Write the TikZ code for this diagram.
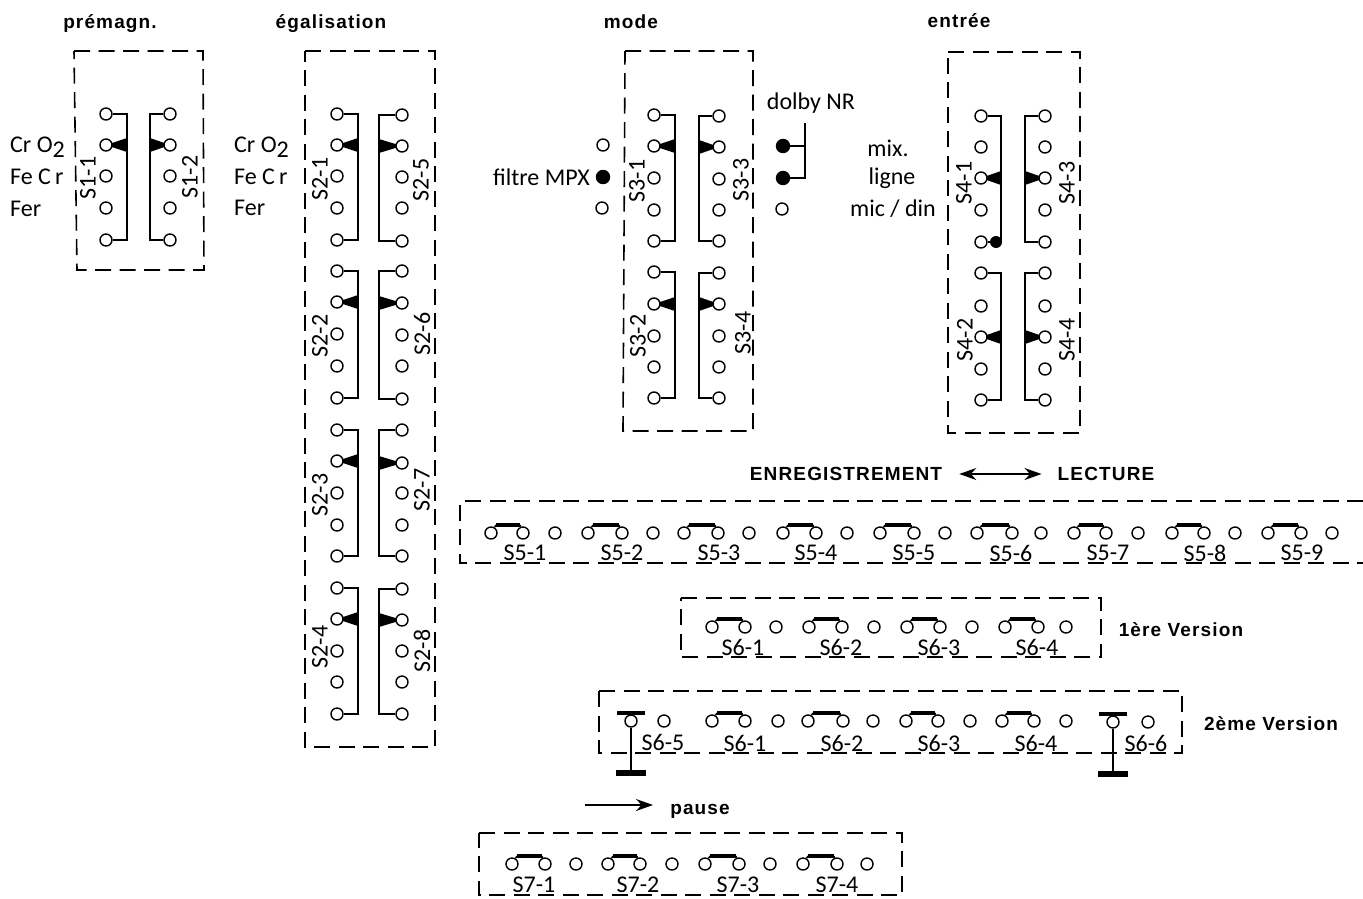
\documentclass[tikz,border=0pt]{standalone}
\usepackage{fontspec}
\setmainfont{Carlito}
\newfontfamily\headfont[LetterSpace=6]{Liberation Sans}
\usetikzlibrary{arrows.meta,backgrounds}
\newcommand{\wires}{1.5pt}
\newcommand{\dashs}{1.6pt}
\tikzset{
    term/.style = {circle, draw, fill=white, line width=1.4pt, inner sep=0pt, minimum size=12pt},
    termon/.style = {term, fill=black, minimum size=13pt},
    wire/.style = {line width=\wires},
    heavy/.style = {line width=3.5pt},
    heavier/.style = {line width=6.5pt},
    dashbox/.style = {line width=\dashs, dash pattern=on 16pt off 8.5pt},
    txt/.style = {inner sep=0pt, font=\fontsize{24}{26}\selectfont},
    waferlabel/.style = {txt, rotate=90},
    head/.style = {inner sep=0pt, font=\headfont\bfseries\fontsize{19}{21}\selectfont}
}
% terminals of one wafer, wedge on row #9
\newcommand{\Wafer}[9]{
    \coordinate (#1a) at (#3,#4);
    \coordinate (#1b) at (#3,#8);
    \node[term] (#11) at (#2,#4) {};
    \node[term] (#12) at (#2,#5) {};
    \node[term] (#13) at (#2,#6) {};
    \node[term] (#14) at (#2,#7) {};
    \node[term] (#15) at (#2,#8) {};
    \draw[wire] (#11) -- (#1a) -- (#1b) -- (#15);
    \coordinate (#1w) at (#1#9 -| #1a);
    \begin{scope}[on background layer]
        \fill ([yshift=7pt]#1w) -- (#1#9.center) -- ([yshift=-7pt]#1w) -- cycle;
    \end{scope}
}
% two bridged terminals and a free one
\newcommand{\Contact}[8]{
    \coordinate (#1l) at (#2+5,#5-8);
    \coordinate (#1r) at (#3-3,#5-8);
    \node[term] (#1a) at (#2,#5) {};
    \node[term] (#1b) at (#3,#5) {};
    \node[term] (#1c) at (#4,#5) {};
    \draw[wire] (#1a) -- (#1l);
    \draw[wire] (#1r) -- (#1b);
    \draw[heavy] (#1l) -- (#1r);
    \node[txt] (#1t) at (#6,#7) {#8};
}
% terminal on a long stem
\newcommand{\Stem}[7]{
    \coordinate (#1u) at (#2,#3-8);
    \coordinate (#1d) at (#2,#3+52);
    \draw[heavy] ([xshift=-14pt]#1u) -- ([xshift=14pt]#1u);
    \draw[heavier] ([xshift=-15pt]#1d) -- ([xshift=15pt]#1d);
    \node[term] (#1a) at (#2,#3) {};
    \node[term] (#1b) at (#4,#3) {};
    \draw[wire] (#1a) -- (#1u);
    \draw[wire] (#1a) -- (#1d);
    \node[txt] (#1t) at (#5,#6) {#7};
}

\begin{document}
\begin{tikzpicture}[x=1pt,y=-1pt]
    %\draw[help lines] (0,0) grid (1363,898);
    \useasboundingbox (0,0) rectangle (1363,898);

    \node[head] (premagn) at (110,24) {prémagn.};
    \node[head] (egal) at (331,24) {égalisation};
    \node[head] (mode) at (631,22) {mode};
    \node[head] (entree) at (959,21) {entrée};

    % dashed frames
    \draw[dashbox] (74,51) -- (203,51) -- (204,270) -- (77,270) -- cycle;
    \draw[dashbox] (305,51) -- (435,51) -- (435,747) -- (305,747) -- cycle;
    \draw[dashbox] (625,51) -- (753,51) -- (753,431) -- (623,431) -- cycle;
    \draw[dashbox] (948,52) -- (1080,52) -- (1080,433) -- (948,433) -- cycle;
    \draw[dashbox] (1363,501) -- (460,501) -- (460,563) -- (1363,563);
    \draw[dashbox] (681,598) -- (1101,598) -- (1101,657) -- (681,657) -- cycle;
    \draw[dashbox] (599,691) -- (1182,691) -- (1182,753) -- (599,753) -- cycle;
    \draw[dashbox] (479,833) -- (902,833) -- (902,895) -- (479,895) -- cycle;

    \Wafer{sa}{106}{127}{114}{145}{176}{208}{240}{2}
    \Wafer{sb}{170}{150}{114}{145}{176}{208}{240}{2}
    \node[waferlabel] (s11) at (88,178) {S1-1};
    \node[waferlabel] (s12) at (190,177) {S1-2};
    \node[txt, anchor=west] (cra) at (10,147) {Cr O\raisebox{-5pt}{2}};
    \node[txt, anchor=west] (fea) at (10,177) {Fe C\,r};
    \node[txt, anchor=west] (fra) at (10,209) {Fer};

    \Wafer{ta}{337}{358}{114}{145}{176}{208}{240}{2}
    \Wafer{tb}{337}{358}{271}{302}{334}{366}{398}{2}
    \Wafer{tc}{337}{358}{430}{461}{493}{525}{556}{2}
    \Wafer{td}{337}{358}{588}{619}{651}{682}{714}{2}
    \Wafer{te}{402}{379}{115}{146}{177}{208}{241}{2}
    \Wafer{tf}{402}{379}{271}{303}{335}{366}{399}{2}
    \Wafer{tg}{402}{379}{430}{463}{493}{525}{556}{2}
    \Wafer{th}{402}{379}{589}{620}{651}{682}{714}{2}
    \node[waferlabel] (s21) at (320,179) {S2-1};
    \node[waferlabel] (s22) at (320,336) {S2-2};
    \node[waferlabel] (s23) at (320,495) {S2-3};
    \node[waferlabel] (s24) at (320,647) {S2-4};
    \node[waferlabel] (s25) at (421,180) {S2-5};
    \node[waferlabel] (s26) at (422,334) {S2-6};
    \node[waferlabel] (s27) at (422,490) {S2-7};
    \node[waferlabel] (s28) at (422,651) {S2-8};
    \node[txt, anchor=west] (crb) at (234,147) {Cr O\raisebox{-5pt}{2}};
    \node[txt, anchor=west] (feb) at (234,177) {Fe C\,r};
    \node[txt, anchor=west] (frb) at (234,208) {Fer};

    \Wafer{ua}{654}{675}{115}{146}{178}{210}{241}{2}
    \Wafer{ub}{654}{675}{272}{304}{336}{367}{398}{2}
    \Wafer{uc}{719}{699}{116}{147}{179}{210}{241}{2}
    \Wafer{ud}{719}{699}{273}{304}{336}{367}{398}{2}
    \node[waferlabel] (s31) at (637,181) {S3-1};
    \node[waferlabel] (s32) at (638,336) {S3-2};
    \node[waferlabel] (s33) at (741,180) {S3-3};
    \node[waferlabel] (s34) at (743,333) {S3-4};

    \node[term] (mpxa) at (603,145) {};
    \node[termon] (mpxb) at (603,177) {};
    \node[term] (mpxc) at (602,208) {};
    \node[txt, anchor=east] (mpx) at (590,177) {filtre MPX};

    \coordinate (dolbyt) at (805,123);
    \node[termon] (dolbya) at (783,146) {};
    \node[termon] (dolbyb) at (783,178) {};
    \node[term] (dolbyc) at (782,209) {};
    \draw[wire] (dolbya) -- (dolbya -| dolbyt);
    \draw[wire] (dolbyb) -| (dolbyt);
    \node[txt] (dolby) at (811,103) {dolby NR};

    \Wafer{va}{981}{1001}{116}{147}{178}{210}{242}{3}
    \Wafer{vb}{981}{1001}{273}{306}{337}{369}{400}{3}
    \Wafer{vc}{1045}{1025}{116}{147}{178}{210}{242}{3}
    \Wafer{vd}{1045}{1025}{273}{306}{337}{369}{400}{3}
    \fill ([xshift=-5pt]vab) circle (6pt);
    \node[waferlabel] (s41) at (964,183) {S4-1};
    \node[waferlabel] (s42) at (965,340) {S4-2};
    \node[waferlabel] (s43) at (1067,183) {S4-3};
    \node[waferlabel] (s44) at (1067,340) {S4-4};
    \node[txt] (mix) at (888,148) {mix.};
    \node[txt] (ligne) at (892,178) {ligne};
    \node[txt] (micdin) at (893,209) {mic / din};

    \node[head] (enr) at (846,474) {ENREGISTREMENT};
    \node[head] (lec) at (1106,474) {LECTURE};
    \draw[wire, {Stealth[length=17pt,width=12pt]}-{Stealth[length=17pt,width=12pt]},
        shorten <=17pt, shorten >=16pt] (enr) -- (lec);

    \Contact{fa}{491}{523}{555}{533}{525}{553}{S5-1}
    \Contact{fb}{588}{622}{653}{533}{622}{553}{S5-2}
    \Contact{fc}{684}{718}{749}{533}{719}{553}{S5-3}
    \Contact{fd}{783}{816}{847}{533}{816}{553}{S5-4}
    \Contact{fe}{880}{914}{945}{533}{914}{553}{S5-5}
    \Contact{ff}{977}{1012}{1041}{533}{1011}{553}{S5-6}
    \Contact{fg}{1074}{1106}{1138}{533}{1108}{553}{S5-7}
    \Contact{fh}{1172}{1204}{1235}{533}{1205}{553}{S5-8}
    \Contact{fi}{1268}{1301}{1332}{533}{1302}{553}{S5-9}

    \Contact{ga}{712}{745}{776}{627}{743}{647}{S6-1}
    \Contact{gb}{809}{842}{874}{627}{841}{647}{S6-2}
    \Contact{gc}{907}{940}{972}{627}{939}{647}{S6-3}
    \Contact{gd}{1005}{1038}{1066}{627}{1037}{647}{S6-4}
    \node[head] (vera) at (1181,630) {1ère Version};

    \Stem{ha}{631}{721}{664}{663}{742}{S6-5}
    \Contact{hb}{712}{745}{778}{721}{745}{743}{S6-1}
    \Contact{hc}{808}{843}{873}{721}{842}{743}{S6-2}
    \Contact{hd}{906}{938}{970}{721}{939}{743}{S6-3}
    \Contact{he}{1002}{1034}{1066}{721}{1036}{743}{S6-4}
    \Stem{hf}{1113}{722}{1148}{1146}{743}{S6-6}
    \node[head] (verb) at (1271,724) {2ème Version};

    \coordinate (pausea) at (585,805);
    \coordinate (pauseb) at (653,805);
    \draw[wire, -{Stealth[length=17pt,width=12pt]}] (pausea) -- (pauseb);
    \node[head] (pause) at (700,811) {pause};

    \Contact{ka}{512}{545}{576}{864}{534}{885}{S7-1}
    \Contact{kb}{608}{640}{672}{864}{638}{885}{S7-2}
    \Contact{kc}{705}{739}{770}{864}{738}{885}{S7-3}
    \Contact{kd}{803}{837}{867}{864}{837}{885}{S7-4}
\end{tikzpicture}
\end{document}
